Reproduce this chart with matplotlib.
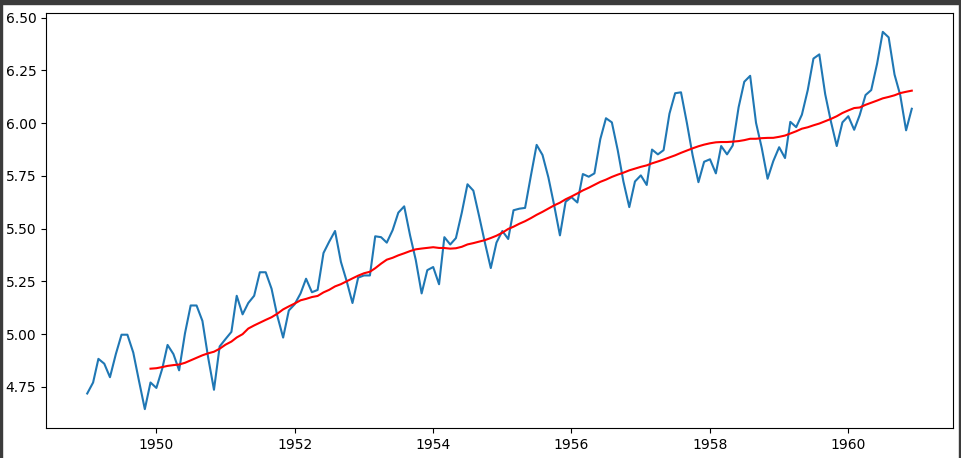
import numpy as np
import pandas as pd
import matplotlib
matplotlib.use("Agg")
import matplotlib.pyplot as plt
from matplotlib.patches import Rectangle

# Monthly airline passengers (thousands), 1949-1960
passengers = [
    112, 118, 132, 129, 121, 135, 148, 148, 136, 119, 104, 118,
    115, 126, 141, 135, 125, 149, 170, 170, 158, 133, 114, 140,
    145, 150, 178, 163, 172, 178, 199, 199, 184, 162, 146, 166,
    171, 180, 193, 181, 183, 218, 230, 242, 209, 191, 172, 194,
    196, 196, 236, 235, 229, 243, 264, 272, 237, 211, 180, 201,
    204, 188, 235, 227, 234, 264, 302, 293, 259, 229, 203, 229,
    242, 233, 267, 269, 270, 315, 364, 347, 312, 274, 237, 278,
    284, 277, 317, 313, 318, 374, 413, 405, 355, 306, 271, 306,
    315, 301, 356, 348, 355, 422, 465, 467, 404, 347, 305, 336,
    340, 318, 362, 348, 363, 435, 491, 505, 404, 359, 310, 337,
    360, 342, 406, 396, 420, 472, 548, 559, 463, 407, 362, 405,
    417, 391, 419, 461, 472, 535, 622, 606, 508, 461, 390, 432,
]
start_month = "1949-01"
window = 12

dates = pd.date_range(start_month, periods=len(passengers), freq="MS")
ts_log = pd.Series(np.log(passengers), index=dates)
moving_avg = ts_log.rolling(window).mean()

fig = plt.figure(figsize=(9.62, 4.58), dpi=100)
ax = fig.add_axes([46 / 962, 1 - 428 / 458, (953 - 46) / 962, (428 - 13) / 458])
ax.plot(ts_log.index, ts_log.values)
ax.plot(moving_avg.index, moving_avg.values, color="red")
ax.set_yticks([4.75, 5.00, 5.25, 5.50, 5.75, 6.00, 6.25, 6.50])
ax.set_yticklabels(["4.75", "5.00", "5.25", "5.50", "5.75", "6.00", "6.25", "6.50"])

# notebook screenshot frame
dark = "#3b3b3b"
fig.patches.append(Rectangle((0, 1 - 4 / 458), 1, 4 / 458, transform=fig.transFigure, color=dark, zorder=10))
fig.patches.append(Rectangle((0, 0), 2 / 962, 1, transform=fig.transFigure, color=dark, zorder=10))
fig.patches.append(Rectangle((1 - 3 / 962, 0), 3 / 962, 1, transform=fig.transFigure, color=dark, zorder=10))

fig.savefig("out.png", dpi=100)
